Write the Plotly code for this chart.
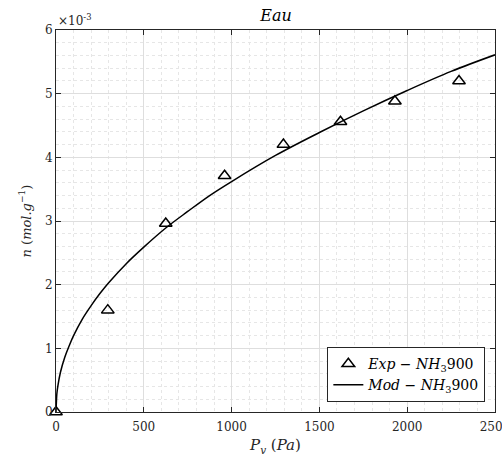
import plotly.graph_objects as go

# Measured water uptake (n in units of 1e-3 mol/g) vs vapour pressure (Pa)
p_exp = [0, 295, 625, 960, 1295, 1620, 1930, 2295]
n_exp = [0.0, 1.60, 2.96, 3.71, 4.20, 4.56, 4.88, 5.20]

# Model curve, sampled points
p_mod = [0, 5, 10, 25, 50, 75, 100, 150, 200, 250, 300, 400, 500, 625, 750, 875, 1000,
         1250, 1500, 1750, 2000, 2250, 2500]
n_mod = [0.0, 0.29, 0.40, 0.62, 0.86, 1.04, 1.20, 1.46, 1.67, 1.86, 2.03, 2.33, 2.59,
         2.89, 3.15, 3.40, 3.62, 4.03, 4.39, 4.73, 5.05, 5.35, 5.61]

x_ticks = [0, 500, 1000, 1500, 2000, 2500]
y_ticks = [0, 1, 2, 3, 4, 5, 6]

SERIF = "DejaVu Serif"
AX = "#262626"

fig = go.Figure()
fig.add_trace(go.Scatter(
    x=p_exp, y=n_exp, mode="markers",
    name="<i>Exp</i> − <i>NH</i><sub>3</sub>900",
    marker=dict(symbol="triangle-up-open", size=11, color="black",
                line=dict(width=1.5, color="black")),
    cliponaxis=False,
))
fig.add_trace(go.Scatter(
    x=p_mod, y=n_mod, mode="lines", line_shape="spline",
    name="<i>Mod</i> − <i>NH</i><sub>3</sub>900",
    line=dict(color="black", width=1.5),
))

axis_common = dict(
    showline=True, linecolor=AX, linewidth=1, mirror="ticks",
    ticks="inside", ticklen=5, tickcolor=AX, tickwidth=1,
    showgrid=True, gridcolor="#dedede", gridwidth=1,
    zeroline=False, automargin=False,
    tickfont=dict(family=SERIF, size=12, color=AX),
)

fig.update_xaxes(
    range=[0, 2500], tickvals=x_ticks, ticklabeloverflow="allow", ticklabelstandoff=4,
    minor=dict(dtick=100, showgrid=True, gridcolor="#e6e6e6", griddash="dot", ticks=""),
    title=dict(text="<i>P<sub>v</sub></i> (<i>Pa</i>)",
               font=dict(family=SERIF, size=15, color=AX), standoff=6),
    **axis_common,
)
fig.update_yaxes(
    range=[0, 6], tickvals=y_ticks, ticklabeloverflow="allow",
    minor=dict(dtick=0.2, showgrid=True, gridcolor="#e6e6e6", griddash="dot", ticks=""),
    title=dict(text="<i>n</i> (<i>mol.g</i><sup>−1</sup>)",
               font=dict(family=SERIF, size=13, color=AX), standoff=10),
    **axis_common,
)

fig.add_annotation(
    xref="paper", yref="paper", x=0.0, y=1.0, xanchor="left", yanchor="bottom",
    text="×10<sup>-3</sup>", showarrow=False,
    font=dict(family=SERIF, size=12, color=AX),
)

fig.update_layout(
    template="none",
    width=502, height=460,
    margin=dict(l=56, r=7, t=30, b=48),
    paper_bgcolor="white", plot_bgcolor="white",
    font=dict(family=SERIF, color=AX),
    title=dict(text="<i>Eau</i>", x=0.55, xanchor="center", y=0.978, yanchor="top",
               font=dict(family=SERIF, size=16, color="black")),
    showlegend=True,
    legend=dict(
        x=0.978, y=0.026, xanchor="right", yanchor="bottom",
        bgcolor="white", bordercolor=AX, borderwidth=1,
        font=dict(family=SERIF, size=14, color="black"),
        tracegroupgap=0, itemwidth=30,
    ),
)

fig.write_html("out.html")
